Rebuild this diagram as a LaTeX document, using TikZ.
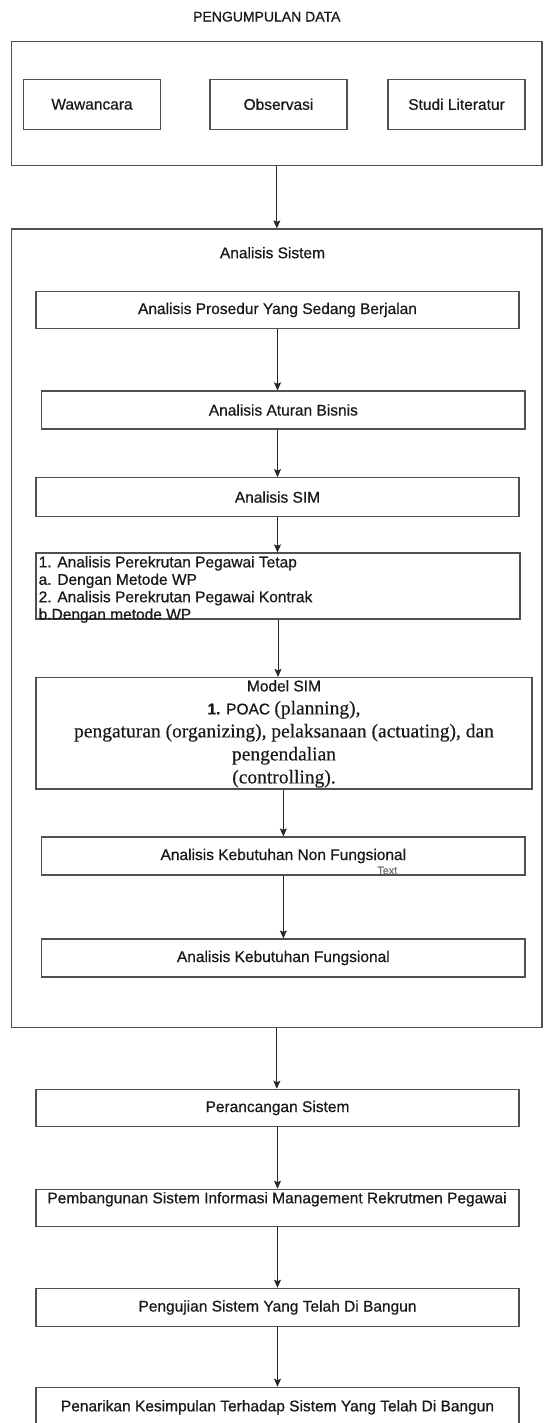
\documentclass[tikz,border=0pt]{standalone}
\usepackage{fontspec}
\setmainfont{Liberation Serif}[FakeBold=0.3]
\setsansfont{Liberation Sans}[FakeBold=0.6]
\usetikzlibrary{arrows.meta}
\definecolor{boxline}{RGB}{80,80,80}
\definecolor{txt}{RGB}{25,25,25}
\begin{document}
\begin{tikzpicture}[x=1pt,y=-1pt,
  bx/.style={draw=boxline,line width=1.2pt,rectangle,inner sep=0pt,fill=white,
    text=txt,font=\sffamily\fontsize{15.5}{17.4}\selectfont},
  lbl/.style={inner sep=0pt,text=txt,font=\sffamily\fontsize{15.5}{17.4}\selectfont},
  arr/.style={draw=black!85,line width=0.9pt,-{Stealth[length=8pt,width=7pt,inset=1.5pt]}}]
\useasboundingbox (0,0) rectangle (545,1423);
\fill[white] (0,0) rectangle (545,1423);

% Title
\node[lbl,font=\sffamily\fontsize{14}{16}\selectfont] (title) at (266.8,16.7) {PENGUMPULAN DATA};

% Pengumpulan data container
\node[bx,minimum width=530.3pt,minimum height=124pt] (box1) at (276.85,103.7) {};
\node[bx,minimum width=137pt,minimum height=50pt] (waw) at (92,104.3) {Wawancara};
\node[bx,minimum width=137pt,minimum height=50pt] (obs) at (278.5,104.3) {Observasi};
\node[bx,minimum width=137pt,minimum height=50pt] (stu) at (456.5,104.3) {Studi Literatur};

% Analisis sistem container
\node[bx,minimum width=530.3pt,minimum height=798.7pt] (box2) at (276.85,628.35) {};
\node[lbl] (anstitle) at (272.5,252.7) {Analisis Sistem};

\node[bx,minimum width=483pt,minimum height=37pt] (pros) at (277.5,310) {Analisis Prosedur Yang Sedang Berjalan};
\node[bx,minimum width=483.3pt,minimum height=38pt] (atur) at (283.35,410) {Analisis Aturan Bisnis};
\node[bx,minimum width=483pt,minimum height=38.8pt] (sim) at (277.5,497.1) {Analisis SIM};
\node[bx,minimum width=484pt,minimum height=66pt] (list) at (278,586) {};
\node[lbl,anchor=west,align=left] (listtxt) at (38.5,589.5) {1. Analisis Perekrutan Pegawai Tetap\\a. Dengan Metode WP\\2. Analisis Perekrutan Pegawai Kontrak\\b.Dengan metode WP};
\node[bx,minimum width=496pt,minimum height=111.5pt] (model) at (284,733.25) {};
\node[inner sep=0pt,text=txt,align=center,font=\rmfamily\fontsize{19.5}{23}\selectfont] (modeltxt) at (284,733.9)
  {{\sffamily\fontsize{15.5}{17.4}\selectfont Model SIM}\\
   {\sffamily\fontsize{15.5}{17.4}\selectfont\textbf{1.} POAC }(planning),\\
   pengaturan (organizing), pelaksanaan (actuating), dan\\
   pengendalian\\
   (controlling).};
\node[bx,minimum width=483.3pt,minimum height=38pt] (nonf) at (283.35,856) {Analisis Kebutuhan Non Fungsional};
\node[inner sep=0pt,text=black!55,font=\sffamily\fontsize{10.8}{12}\selectfont] (textlbl) at (387.3,870.5) {Text};
\node[bx,minimum width=483.3pt,minimum height=38pt] (fung) at (283.35,958) {Analisis Kebutuhan Fungsional};

% After analysis
\node[bx,minimum width=483pt,minimum height=37.4pt] (peran) at (277.5,1108) {Perancangan Sistem};
\node[bx,minimum width=483pt,minimum height=37.4pt] (pemb) at (277.5,1208) {};
\node[lbl] (pembtxt) at (277,1199.3) {Pembangunan Sistem Informasi Management Rekrutmen Pegawai};
\node[bx,minimum width=483pt,minimum height=38.4pt] (peng) at (277.5,1307.5) {Pengujian Sistem Yang Telah Di Bangun};
\node[bx,minimum width=483pt,minimum height=40pt] (pena) at (277.5,1407.3) {Penarikan Kesimpulan Terhadap Sistem Yang Telah Di Bangun};

% Connectors
\draw[arr] (box1.south) -- (box2.north);
\draw[arr] (pros.south) -- (pros.south |- atur.north);
\draw[arr] (atur.south -| sim.north) -- (sim.north);
\draw[arr] (sim.south) -- (sim.south |- list.north);
\draw[arr] (list.south) -- (list.south |- model.north);
\draw[arr] (model.south -| nonf.north) -- (nonf.north);
\draw[arr] (nonf.south) -- (fung.north);
\draw[arr] (box2.south) -- (box2.south |- peran.north);
\draw[arr] (peran.south) -- (pemb.north);
\draw[arr] (pemb.south) -- (peng.north);
\draw[arr] (peng.south) -- (pena.north);
\end{tikzpicture}
\end{document}
